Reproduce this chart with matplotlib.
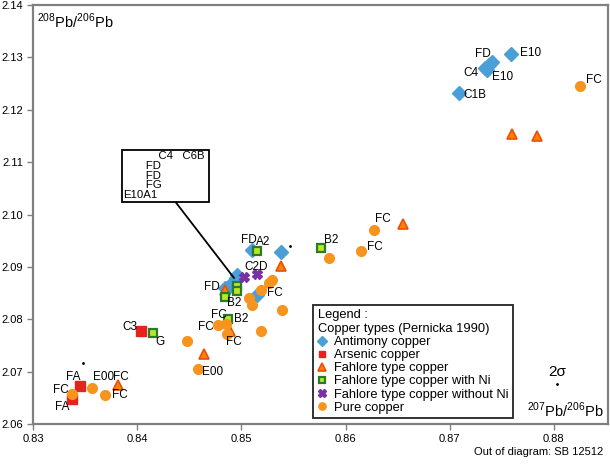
import matplotlib
matplotlib.use('Agg')
import matplotlib.pyplot as plt
from matplotlib.patches import Rectangle

plt.rcParams['font.family'] = ['Liberation Sans', 'DejaVu Sans']
plt.rcParams['mathtext.fontset'] = 'custom'
plt.rcParams['mathtext.rm'] = 'Liberation Sans'

# 207Pb/206Pb (x), 208Pb/206Pb (y) and sample labels per copper type
sb_x = [0.8759, 0.8741, 0.8738, 0.8734, 0.8736, 0.8709, 0.8510, 0.8538,
        0.8496, 0.8495, 0.8493, 0.8491, 0.8488, 0.8484, 0.8515]
sb_y = [2.1306, 2.1291, 2.1285, 2.1280, 2.1276, 2.1232, 2.0932, 2.0929,
        2.0885, 2.0878, 2.0872, 2.0869, 2.0862, 2.0860, 2.0847]
sb_lab = ['E10', 'FD', '', 'C4', 'E10', 'C1B', 'FD', '',
          '', '', '', '', '', 'FD', '']

as_x = [0.8404, 0.8345, 0.8337]
as_y = [2.0778, 2.0673, 2.0648]
as_lab = ['C3', 'FA', 'FA']

fa_x = [0.8760, 0.8784, 0.8655, 0.8538, 0.8484, 0.8489, 0.8464, 0.8382]
fa_y = [2.1154, 2.1150, 2.0982, 2.0901, 2.0856, 2.0777, 2.0734, 2.0675]
fa_lab = ['', '', '', '', '', 'FC', '', 'FC']

ni_x = [0.8515, 0.8576, 0.8496, 0.8496, 0.8484, 0.8487, 0.8415]
ni_y = [2.0931, 2.0936, 2.0864, 2.0854, 2.0843, 2.0800, 2.0774]
ni_lab = ['A2', 'B2', '', '', 'B2', 'B2', 'G']

woni_x = [0.8503, 0.8515]
woni_y = [2.0880, 2.0887]
woni_lab = ['', 'C2D']

cu_x = [0.8825, 0.8627, 0.8615, 0.8584, 0.8529, 0.8527, 0.8519, 0.8507,
        0.8510, 0.8539, 0.8478, 0.8485, 0.8486, 0.8519, 0.8448, 0.8458,
        0.8337, 0.8357, 0.8369]
cu_y = [2.1245, 2.0971, 2.0931, 2.0917, 2.0875, 2.0870, 2.0856, 2.0841,
        2.0827, 2.0818, 2.0789, 2.0791, 2.0772, 2.0777, 2.0759, 2.0705,
        2.0658, 2.0669, 2.0656]
cu_lab = ['FC', 'FC', 'FC', '', '', '', 'FC', '',
          '', '', 'FC', 'FC', '', '', '', 'E00',
          'FC', 'E00', 'FC']

# samples hidden in the crowded cluster, listed in the inset box
inset_text = ('           C4   C6B\n'
              '       FD\n'
              '       FD\n'
              '       FG\n'
              'E10A1')

# label offsets (pixels) from each point
sb_off = [(19, 1), (-9, 8), None, (-14, -5), (15, -7), (16, -2), (-3, 10), None,
          None, None, None, None, None, (-13, 1), None]
as_off = [(-11, 4), (-7, 9), (-9, -8)]
fa_off = [None] * 5 + [(4, -11), None, (2, 8)]
ni_off = [(6, 9), (11, 8), None, None, (10, -6), (13, 0), (7, -9)]
woni_off = [None, (-1, 7)]
cu_off = [(14, 6), (9, 11), (14, 4), None, None, None, (14, -3), None,
          None, None, (-13, -2), (-7, 9), None, None, None, (15, -3),
          (-11, 4), (11, 11), (15, 0)]

fig = plt.figure(figsize=(6.1, 4.65), dpi=100)
ax = fig.add_axes([33 / 610, 41 / 465, 575 / 610, 419 / 465])

series = [
    (sb_x, sb_y, sb_lab, sb_off, dict(marker='D', ms=7, color='#4a9fd6', mec='#4a9fd6'), 'Antimony copper'),
    (as_x, as_y, as_lab, as_off, dict(marker='s', ms=6.5, color='#e3241c', mec='#e3241c'), 'Arsenic copper'),
    (fa_x, fa_y, fa_lab, fa_off, dict(marker='^', ms=7, color='#ff7f00', mec='#e8500c', mew=1.2), 'Fahlore type copper'),
    (ni_x, ni_y, ni_lab, ni_off, dict(marker='s', ms=5.8, color='#b8e62a', mec='#2a7a2a', mew=1.6), 'Fahlore type copper with Ni'),
    (woni_x, woni_y, woni_lab, woni_off, dict(marker='X', ms=7, color='#7a2fa6', mec='#7a2fa6'), 'Fahlore type copper without Ni'),
    (cu_x, cu_y, cu_lab, cu_off, dict(marker='o', ms=7, color='#f7941d', mec='#f7941d'), 'Pure copper'),
]

handles = []
for xs, ys, labs, offs, style, name in series:
    h, = ax.plot(xs, ys, ls='none', label=name, **style)
    handles.append(h)
    for x, y, t, o in zip(xs, ys, labs, offs):
        if t and o:
            ax.annotate(t, (x, y), xytext=o, textcoords='offset pixels',
                        ha='center', va='center', fontsize=8.5)

# stray error marks
ax.plot([0.8348, 0.8547, 0.8803], [2.0717, 2.0940, 2.0677], 'k.', ms=2)
ax.text(0.8803, 2.0700, '2σ', ha='center', va='center', fontsize=11)

# inset box for the crowded cluster
ax.add_patch(Rectangle((0.83857, 2.1023), 0.00833, 0.0100, fill=False,
                       ec='black', lw=1.3, zorder=5))
ax.plot([0.84375, 0.84929], [2.10221, 2.0879], color='black', lw=1.3)
ax.text(0.83869, 2.1121, inset_text, fontsize=8.2, ha='left', va='top',
        multialignment='left', linespacing=0.97)

ax.set_xlim(0.83, 0.8852)
ax.set_ylim(2.06, 2.14)
ax.set_xticks([0.83, 0.84, 0.85, 0.86, 0.87, 0.88])
ax.set_yticks([2.06, 2.07, 2.08, 2.09, 2.10, 2.11, 2.12, 2.13, 2.14])
ax.set_xticklabels(['0.83', '0.84', '0.85', '0.86', '0.87', '0.88'])
ax.set_yticklabels(['2.06', '2.07', '2.08', '2.09', '2.10', '2.11', '2.12', '2.13', '2.14'])
ax.tick_params(direction='out', length=4, width=1, color='#808080',
               labelsize=8, pad=3)
for s in ax.spines.values():
    s.set_color('#808080')
    s.set_linewidth(1.6)

ax.text(0.007, 0.985, r'$^{208}$Pb/$^{206}$Pb', transform=ax.transAxes,
        ha='left', va='top', fontsize=10.5)
ax.text(0.993, 0.01, r'$^{207}$Pb/$^{206}$Pb', transform=ax.transAxes,
        ha='right', va='bottom', fontsize=10.5)
fig.text(603 / 610, 1 - 452 / 465, 'Out of diagram: SB 12512', ha='right',
         va='center', fontsize=8)

leg = ax.legend(handles=handles, loc='lower left', bbox_to_anchor=(0.487, 0.014),
                borderaxespad=0, fancybox=False, fontsize=9.3,
                title='Legend :\nCopper types (Pernicka 1990)', title_fontsize=9.3,
                alignment='left', handlelength=0.7, handletextpad=0.6,
                labelspacing=0.08, markerscale=0.75, borderpad=0.35)
leg.get_frame().set_edgecolor('black')
leg.get_frame().set_linewidth(1.4)

fig.savefig('out.png', dpi=100)
